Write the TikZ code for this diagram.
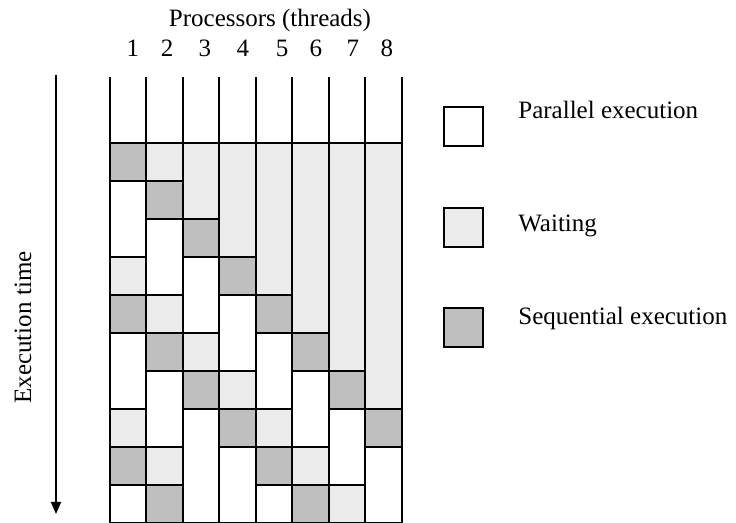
\documentclass[tikz,border=0pt]{standalone}
\usepackage{fontspec}
\setmainfont{Liberation Serif}
\usetikzlibrary{arrows.meta}

\begin{document}
\begin{tikzpicture}[x=0.5pt,y=-0.5pt,font=\fontsize{12.5}{15}\selectfont]
  %----- styles
  \tikzset{
    seq/.style    ={draw,line width=0.9pt,fill=black!25},
    par/.style    ={draw,line width=0.9pt,fill=white},
    wait/.style   ={draw,line width=0.9pt,fill=black!8},
    legbox/.style ={minimum width=19.5pt,minimum height=19.5pt,inner sep=0pt},
    legtext/.style={anchor=base west,inner sep=0pt},
    lane/.style   ={line width=1pt},
    timearrow/.style ={-{Triangle[length=6pt,width=5pt]},line width=0.8pt}
  }
  \useasboundingbox (0,0) rectangle (736,523);

  %==================== GRID LAYOUT ====================
  \def\xz{110}    % left edge of lane 1
  \def\yz{143}    % top of the first row
  \def\colw{36.5} % lane width
  \def\rowh{38}   % row height
  \def\ytop{77}   % top of the lanes
  \def\ybot{523}  % bottom of the lanes

  %----- blocks (kind/first row/number of rows)
  \foreach \c/\blocks in {
      1/{seq/0/1,par/1/2,wait/3/1,seq/4/1,par/5/2,wait/7/1,seq/8/1,par/9/1},
      2/{wait/0/1,seq/1/1,par/2/2,wait/4/1,seq/5/1,par/6/2,wait/8/1,seq/9/1},
      3/{wait/0/2,seq/2/1,par/3/2,wait/5/1,seq/6/1,par/7/3},
      4/{wait/0/3,seq/3/1,par/4/2,wait/6/1,seq/7/1,par/8/2},
      5/{wait/0/4,seq/4/1,par/5/2,wait/7/1,seq/8/1,par/9/1},
      6/{wait/0/5,seq/5/1,par/6/2,wait/8/1,seq/9/1},
      7/{wait/0/6,seq/6/1,par/7/2,wait/9/1},
      8/{wait/0/7,seq/7/1,par/8/2}}
    \foreach \k/\r/\n in \blocks
      \draw[\k] ({\xz+(\c-1)*\colw},{\yz+\r*\rowh}) rectangle ++(\colw,{\n*\rowh});

  %----- lanes
  \foreach \i in {0,...,8}
    \draw[lane] ({\xz+\i*\colw},\ytop) -- ({\xz+\i*\colw},\ybot);
  \draw[lane] (\xz,\yz) -- ({\xz+8*\colw},\yz);

  %----- header
  \node[anchor=base] (proc) at (270,27) {Processors (threads)};
  \foreach \i/\x in {1/133,2/167,3/205,4/243,5/282,6/316,7/353,8/387}
    \node[anchor=base] (num\i) at (\x,57) {\i};

  %----- time axis
  \coordinate (ttop) at (56,75);
  \coordinate (tbot) at (56,514);
  \draw[timearrow] (ttop) -- (tbot);
  \node[rotate=90] (time) at (23,327.5) {Execution time};

  %----- legend
  \node[legbox,par]  (legpar)  at (463.5,126.5) {};
  \node[legbox,wait] (legwait) at (463.5,227.5) {};
  \node[legbox,seq]  (legseq)  at (463.5,327.5) {};
  \node[legtext] (txtpar)  at (518,119) {Parallel execution};
  \node[legtext] (txtwait) at (518,232) {Waiting};
  \node[legtext] (txtseq)  at (518,325) {Sequential execution};
\end{tikzpicture}
\end{document}
